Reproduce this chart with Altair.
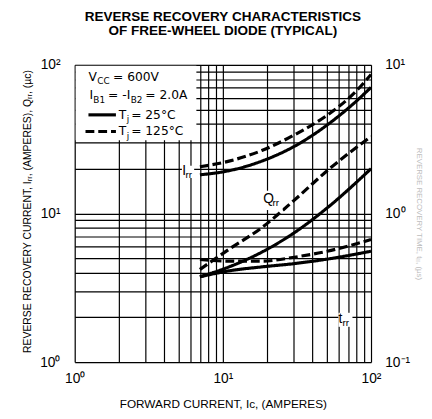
import altair as alt
import pandas as pd

# ---- data (IC in amperes) ----
ic_irr = [7, 11, 18.3, 30.4, 50.6, 76, 100]
irr_25 = [18.2, 19.4, 22.5, 28.3, 39.4, 54.7, 70.5]
irr_125 = [20.6, 22.5, 26.5, 33.8, 45.8, 63.7, 86.0]

ic_qrr = [7, 11, 18.3, 30.4, 50.6, 100]
qrr_25 = [3.75, 4.37, 5.49, 7.43, 10.9, 20.0]
qrr_125 = [4.2, 5.74, 8.02, 12.3, 19.4, 33.0]

ic_trr = [7, 11, 18.3, 30.4, 50.6, 100]
trr_25 = [0.375, 0.411, 0.437, 0.46, 0.493, 0.557]
trr_125 = [0.49, 0.478, 0.478, 0.508, 0.557, 0.668]

grid_x = [1, 2, 3, 4, 5, 6, 7, 8, 9, 10, 20, 30, 40, 50, 60, 70, 80, 90, 100]
grid_left = [1, 2, 3, 4, 5, 6, 7, 8, 9, 10, 20, 30, 40, 50, 60, 70, 80, 90, 100]
x_label_vals = [1, 10, 100]
x_label_txt = ["10⁰", "10¹", "10²"]
left_label_vals = [1, 10, 100]
left_label_txt = ["10⁰", "10¹", "10²"]
right_label_vals = [0.1, 1, 10]
right_label_txt = ["10⁻¹", "10⁰", "10¹"]

FONT = "Liberation Sans"
LFONT = "DejaVu Sans"


def label_expr(vals, txts):
    return "".join(f"datum.value == {v} ? '{t}' : " for v, t in zip(vals, txts)) + "''"


left_rows = []
for name, xs_, ys_, temp in [("Irr25", ic_irr, irr_25, "25"), ("Irr125", ic_irr, irr_125, "125"),
                             ("Qrr25", ic_qrr, qrr_25, "25"), ("Qrr125", ic_qrr, qrr_125, "125")]:
    for a, b in zip(xs_, ys_):
        left_rows.append({"ic": a, "val": b, "curve": name, "temp": temp})
df_left = pd.DataFrame(left_rows)

right_rows = []
for name, xs_, ys_, temp in [("trr25", ic_trr, trr_25, "25"), ("trr125", ic_trr, trr_125, "125")]:
    for a, b in zip(xs_, ys_):
        right_rows.append({"ic": a, "val": b, "curve": name, "temp": temp})
df_right = pd.DataFrame(right_rows)

x_axis = alt.Axis(values=grid_x, grid=True, gridColor="black", gridWidth=1.2, ticks=False, domain=False,
                  labelExpr=label_expr(x_label_vals, x_label_txt), labelFont=FONT, labelFontSize=14,
                  labelPadding=10, labelFlush=False, labelOverlap=False, labelColor="black",
                  title="FORWARD CURRENT, Iᴄ, (AMPERES)", titleFont=FONT, titleFontSize=12,
                  titleFontWeight="normal", titleColor="black", titleY=46, titleBaseline="alphabetic")
left_axis = alt.Axis(values=grid_left, grid=True, gridColor="black", gridWidth=1.2, ticks=False, domain=False,
                     labelExpr=label_expr(left_label_vals, left_label_txt), labelFont=FONT, labelFontSize=14,
                     labelPadding=15, labelOverlap=False, labelColor="black",
                     title="REVERSE RECOVERY CURRENT, Iᵣᵣ, (AMPERES), Qᵣᵣ, (µc)", titleFont=FONT,
                     titleFontSize=10.6, titleFontWeight="normal", titleColor="black",
                     titleX=-45, titleY=149, titleBaseline="alphabetic")
right_axis = alt.Axis(orient="right", values=right_label_vals, grid=False, ticks=False, domain=False,
                      labelExpr=label_expr(right_label_vals, right_label_txt), labelFont=FONT, labelFontSize=14,
                      labelPadding=14, labelOverlap=False, labelColor="black",
                      title="REVERSE RECOVERY TIME, tᵣᵣ, (µs)", titleFont=FONT, titleFontSize=8,
                      titleFontWeight="normal", titleColor="#bdbdbd", titleX=46, titleBaseline="alphabetic")

xs = alt.Scale(type="log", domain=[1, 100], nice=False)
ys_left = alt.Scale(type="log", domain=[1, 100], nice=False)
ys_right = alt.Scale(type="log", domain=[0.1, 10], nice=False)
dash = alt.StrokeDash("temp:N", scale=alt.Scale(domain=["25", "125"], range=[[1, 0], [9, 4]]), legend=None)

left_lines = alt.Chart(df_left).mark_line(interpolate="monotone", strokeWidth=3.2, color="black").encode(
    x=alt.X("ic:Q", scale=xs, axis=x_axis),
    y=alt.Y("val:Q", scale=ys_left, axis=left_axis),
    detail="curve:N", strokeDash=dash)

right_lines = alt.Chart(df_right).mark_line(interpolate="monotone", strokeWidth=3.2, color="black").encode(
    x=alt.X("ic:Q", scale=xs, axis=x_axis),
    y=alt.Y("val:Q", scale=ys_right, axis=right_axis),
    detail="curve:N", strokeDash=dash)

# curve labels (main letter + subscript), placed in data coordinates
curve_labels_left = pd.DataFrame({"ic": [5.31, 18.7], "val": [18.2, 11.7], "main": ["I", "Q"],
                                  "sub": ["rr", "rr"], "sdx": [3.5, 9.5], "w": [14, 22]})
curve_labels_right = pd.DataFrame({"ic": [60.4], "val": [0.184], "main": ["t"], "sub": ["rr"], "sdx": [4],
                                   "w": [16]})


def label_layers(df, yscale, yaxis):
    enc = dict(x=alt.X("ic:Q", scale=xs, axis=x_axis), y=alt.Y("val:Q", scale=yscale, axis=yaxis))
    layers = []
    for i in range(len(df)):
        one = df.iloc[[i]]
        w = float(df["w"].iloc[i])
        layers.append(alt.Chart(one).mark_point(shape="square", filled=True, color="white", opacity=1,
                                                size=w * w * 0.8, xOffset=w / 2 - 1, yOffset=-3)
                      .encode(**enc))
    layers.append(alt.Chart(df).mark_text(align="left", baseline="alphabetic", font=FONT, fontSize=14,
                                          color="black").encode(text="main:N", **enc))
    for i in range(len(df)):
        one = df.iloc[[i]]
        layers.append(alt.Chart(one).mark_text(align="left", baseline="alphabetic", font=FONT, fontSize=10,
                                               dx=float(df["sdx"].iloc[i]), dy=3, color="black")
                      .encode(text="sub:N", **enc))
    return layers


left_group = alt.layer(left_lines, *label_layers(curve_labels_left, ys_left, left_axis))
right_group = alt.layer(right_lines, *label_layers(curve_labels_right, ys_right, right_axis))

# legend block (pixel positions inside the plot area)
one = pd.DataFrame({"k": [0]})
legend_layers = [
    alt.Chart(one).mark_rect(color="white").encode(x=alt.value(1), x2=alt.value(124), y=alt.value(1),
                                                    y2=alt.value(77))
]
pieces = [
    ("V", 14, 16, 12.5), ("CC", 23, 19.5, 9), ("= 600V", 39, 16, 12.5),
    ("I", 15, 35, 12.5), ("B1", 19, 38.5, 9), ("= -I", 34, 35, 12.5), ("B2", 57, 38.5, 9),
    ("= 2.0A", 72, 35, 12.5),
    ("T", 45, 55, 12.5), ("j", 53, 58.5, 9), ("= 25°C", 57.5, 55, 12.5),
    ("T", 45, 72, 12.5), ("j", 53, 75.5, 9), ("= 125°C", 57.5, 72, 12.5),
]
for txt, px, py, fs in pieces:
    legend_layers.append(
        alt.Chart(pd.DataFrame({"t": [txt]})).mark_text(align="left", baseline="alphabetic", font=LFONT,
                                                         fontSize=fs, color="black")
        .encode(x=alt.value(px), y=alt.value(py), text="t:N"))
legend_layers.append(alt.Chart(one).mark_rule(color="black", strokeWidth=3.2).encode(
    x=alt.value(14), x2=alt.value(42), y=alt.value(51)))
legend_layers.append(alt.Chart(one).mark_rule(color="black", strokeWidth=3.2, strokeDash=[9, 4]).encode(
    x=alt.value(11), x2=alt.value(42), y=alt.value(68)))

chart = alt.layer(left_group, right_group, *legend_layers).resolve_scale(y="independent").properties(
    width=302, height=303,
    autosize=alt.AutoSizeParams(type="none"),
    padding={"left": 68, "top": 54, "right": 54, "bottom": 50},
    title=alt.TitleParams(text=["REVERSE RECOVERY CHARACTERISTICS", "OF FREE-WHEEL DIODE (TYPICAL)"],
                          font=FONT, fontSize=13.8, fontWeight="bold", color="black", anchor="middle",
                          lineHeight=13.8, offset=21),
).configure_view(stroke="black", strokeWidth=2).configure(background="white")

chart.save("out.html", embed_options={"renderer": "svg", "actions": False})
